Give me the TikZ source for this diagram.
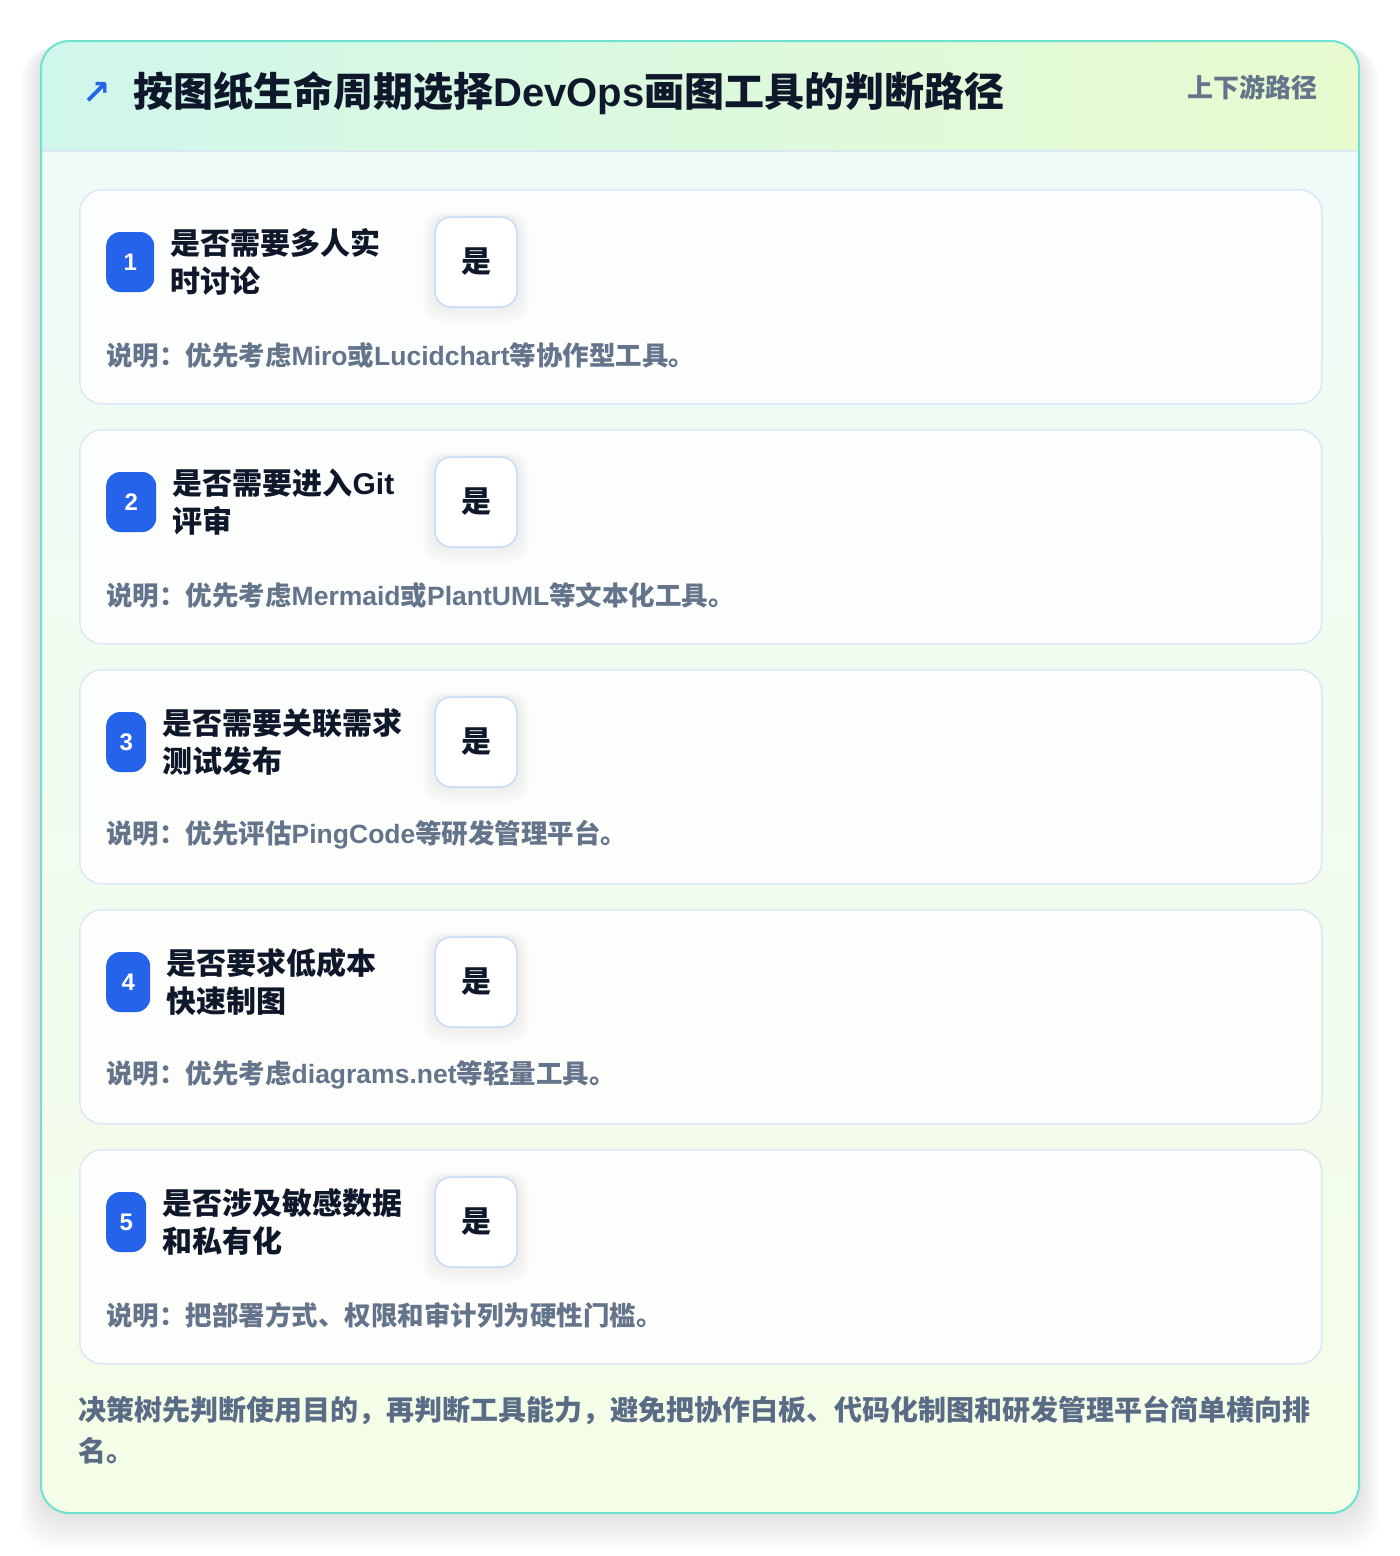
\documentclass[tikz,border=0pt]{standalone}
\usepackage{fontspec}
\setmainfont{Noto Sans CJK SC}
\newfontfamily\latf{Liberation Sans}
\newfontfamily\symf{DejaVu Sans}
\usetikzlibrary{positioning}

\newcommand\en[1]{{\latf\bfseries #1}}

\definecolor{bodytop}{HTML}{EFFBF7}
\definecolor{bodybot}{HTML}{F4FDE7}
\definecolor{headl}{HTML}{D0F7EC}
\definecolor{headr}{HTML}{E8FBCF}
\definecolor{cardedge}{HTML}{6EE2CF}
\definecolor{headsep}{HTML}{D9E8F2}
\definecolor{stepline}{HTML}{DCE8F7}
\definecolor{badgeblue}{HTML}{2563EB}
\definecolor{ink}{HTML}{0F172A}
\definecolor{slate}{HTML}{64748B}
\definecolor{notecol}{HTML}{5A6B85}
\definecolor{yesline}{HTML}{C6DBF6}

\tikzset{
  stepcard/.style={draw=stepline, line width=1.5pt, fill=white, fill opacity=0.85,
    rounded corners=22pt, minimum width=1242pt, minimum height=214pt, anchor=north west},
  badge/.style={fill=badgeblue, rounded corners=14pt, minimum height=60pt, inner sep=0pt,
    text=white, font=\latf\bfseries\fontsize{24}{28}\selectfont},
  question/.style={inner sep=0pt, align=left, text=ink, font=\bfseries\fontsize{30}{38}\selectfont},
  yesbox/.style={draw=yesline, line width=1.5pt, fill=white, rounded corners=16pt,
    minimum width=82pt, minimum height=90pt, text=ink, font=\bfseries\fontsize{30}{36}\selectfont},
  desc/.style={inner sep=0pt, anchor=west, text=slate, font=\bfseries\fontsize{26.5}{32}\selectfont},
}

\begin{document}
\begin{tikzpicture}[x=1pt,y=-1pt]
\useasboundingbox (0,0) rectangle (1400,1556);

% soft shadow of the card
\foreach \k in {1,...,14}
  \fill[black, opacity=0.007, rounded corners=32pt] (41-\k*1.5,41+\k*0.5) rectangle (1359+\k*1.5,1513+\k*2.6);

% card body and header band
\begin{scope}
  \clip[rounded corners=28pt] (41,41) rectangle (1359,1513);
  \shade[top color=bodytop, bottom color=bodybot] (41,151) rectangle (1359,1513);
  \shade[left color=headl, right color=headr] (41,41) rectangle (1359,151);
\end{scope}
\draw[headsep, line width=1.5pt] (42,151) -- (1358,151);
\draw[cardedge, line width=2pt, rounded corners=28pt] (41,41) rectangle (1359,1513);

\node[anchor=west, inner sep=0pt, text=badgeblue, font=\symf\bfseries\fontsize{34}{40}\selectfont] (icon) at (82,93) {↗};
\node[anchor=west, inner sep=0pt, text=ink, font=\bfseries\fontsize{40}{48}\selectfont] (title) at (133,93)
  {按图纸生命周期选择\en{DevOps}画图工具的判断路径};
\node[anchor=east, inner sep=0pt, text=slate, font=\bfseries\fontsize{26}{30}\selectfont] (tag) at (1318,87) {上下游路径};

% decision steps
\foreach \i/\bw/\qa/\qb/\txt [count=\n from 0] in {
  1/48/是否需要多人实/时讨论/说明：优先考虑\en{Miro}或\en{Lucidchart}等协作型工具。,
  2/50/是否需要进入\en{Git}/评审/说明：优先考虑\en{Mermaid}或\en{PlantUML}等文本化工具。,
  3/40/是否需要关联需求/测试发布/说明：优先评估\en{PingCode}等研发管理平台。,
  4/44/是否要求低成本/快速制图/说明：优先考虑\en{diagrams.net}等轻量工具。,
  5/40/是否涉及敏感数据/和私有化/说明：把部署方式、权限和审计列为硬性门槛。}
{
  \pgfmathsetmacro\ty{189+240*\n}
  \node[stepcard] (card\i) at (79,\ty) {};
  \node[badge, minimum width=\bw pt, anchor=west] (badge\i) at (106,\ty+73) {\i};
  \node[question, right=16pt of badge\i] (q\i) {\qa\\\qb};
  \foreach \k in {1,...,8}
    \fill[black, opacity=0.006, rounded corners=18pt] (435-\k*1.6,\ty+28-\k*0.6) rectangle (517+\k*1.6,\ty+118+\k*2);
  \node[yesbox] (yes\i) at (476,\ty+73) {是};
  \node[desc] (desc\i) at (106,\ty+166) {\txt};
}

\node[anchor=north west, inner sep=0pt, align=left, text=notecol, font=\bfseries\fontsize{28}{41}\selectfont] (note) at (78,1396)
  {决策树先判断使用目的，再判断工具能力，避免把协作白板、代码化制图和研发管理平台简单横向排\\名。};
\end{tikzpicture}
\end{document}
